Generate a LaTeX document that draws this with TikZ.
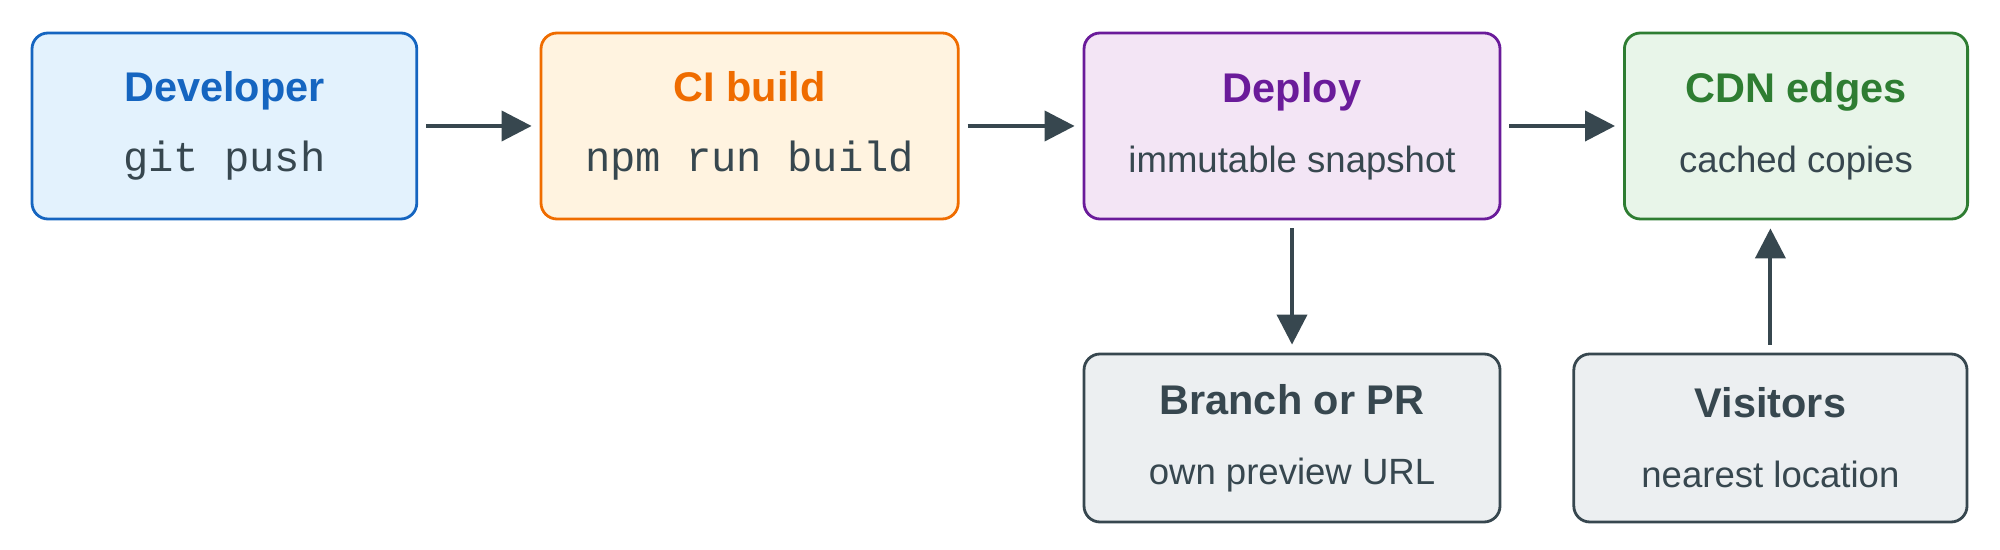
\documentclass[tikz,border=0pt]{standalone}
\usepackage{fontspec}
\setmainfont{Liberation Sans}
\setmonofont{Liberation Mono}
\usetikzlibrary{positioning,arrows.meta}

\definecolor{devline}{HTML}{1565C0}\definecolor{devfill}{HTML}{E3F2FD}
\definecolor{ciline}{HTML}{EF6C00}\definecolor{cifill}{HTML}{FFF3E0}
\definecolor{depline}{HTML}{6A1B9A}\definecolor{depfill}{HTML}{F3E5F5}
\definecolor{cdnline}{HTML}{2E7D32}\definecolor{cdnfill}{HTML}{E8F5E9}
\definecolor{slate}{HTML}{37474F}\definecolor{slatefill}{HTML}{ECEFF1}

\newcommand{\boxtext}[3]{{\fontsize{29.5}{50}\selectfont\bfseries\color{#1}#2}\\{\fontsize{26}{50}\selectfont\color{slate}#3}}
\newcommand{\cmd}[1]{{\fontsize{30}{50}\selectfont\ttfamily #1}}

\tikzset{
  stage/.style = {draw = #1line, fill = #1fill, line width = 2pt, rounded corners = 0.4cm,
    minimum height = 4.65cm, align = center, inner sep = 0pt, font = \fontsize{26}{50}\selectfont},
  side/.style = {draw = slate, fill = slatefill, line width = 2pt, rounded corners = 0.4cm,
    minimum height = 4.2cm, align = center, inner sep = 0pt, font = \fontsize{26}{50}\selectfont},
  flow/.style = {draw = slate, line width = 2.8pt, -{Triangle[length = 0.75cm, width = 0.75cm]},
    shorten <= 0.2cm, shorten >= 0.2cm}
}

\begin{document}
\begin{tikzpicture}
\useasboundingbox (0,0) rectangle (50,13.75);
\node[stage = dev, minimum width = 9.62cm] (dev) at (5.61,10.6) {\boxtext{devline}{Developer}{\cmd{git push}}};
\node[stage = ci, minimum width = 10.43cm] (ci) at (18.74,10.6) {\boxtext{ciline}{CI build}{\cmd{npm run build}}};
\node[stage = dep, minimum width = 10.4cm] (deploy) at (32.3,10.6) {\boxtext{depline}{Deploy}{immutable snapshot}};
\node[stage = cdn, minimum width = 8.58cm] (cdn) at (44.9,10.6) {\boxtext{cdnline}{CDN edges}{cached copies}};
\node[side, minimum width = 10.4cm] (branch) at (32.3,2.8) {\boxtext{slate}{Branch or PR}{own preview URL}};
\node[side, minimum width = 9.83cm] (visitors) at (44.26,2.8) {\boxtext{slate}{Visitors}{nearest location}};

\draw[flow] (dev) -- (ci);
\draw[flow] (ci) -- (deploy);
\draw[flow] (deploy) -- (cdn);
\draw[flow] (deploy) -- (branch);
\draw[flow] (visitors.north) -- (visitors.north |- cdn.south);
\end{tikzpicture}
\end{document}
